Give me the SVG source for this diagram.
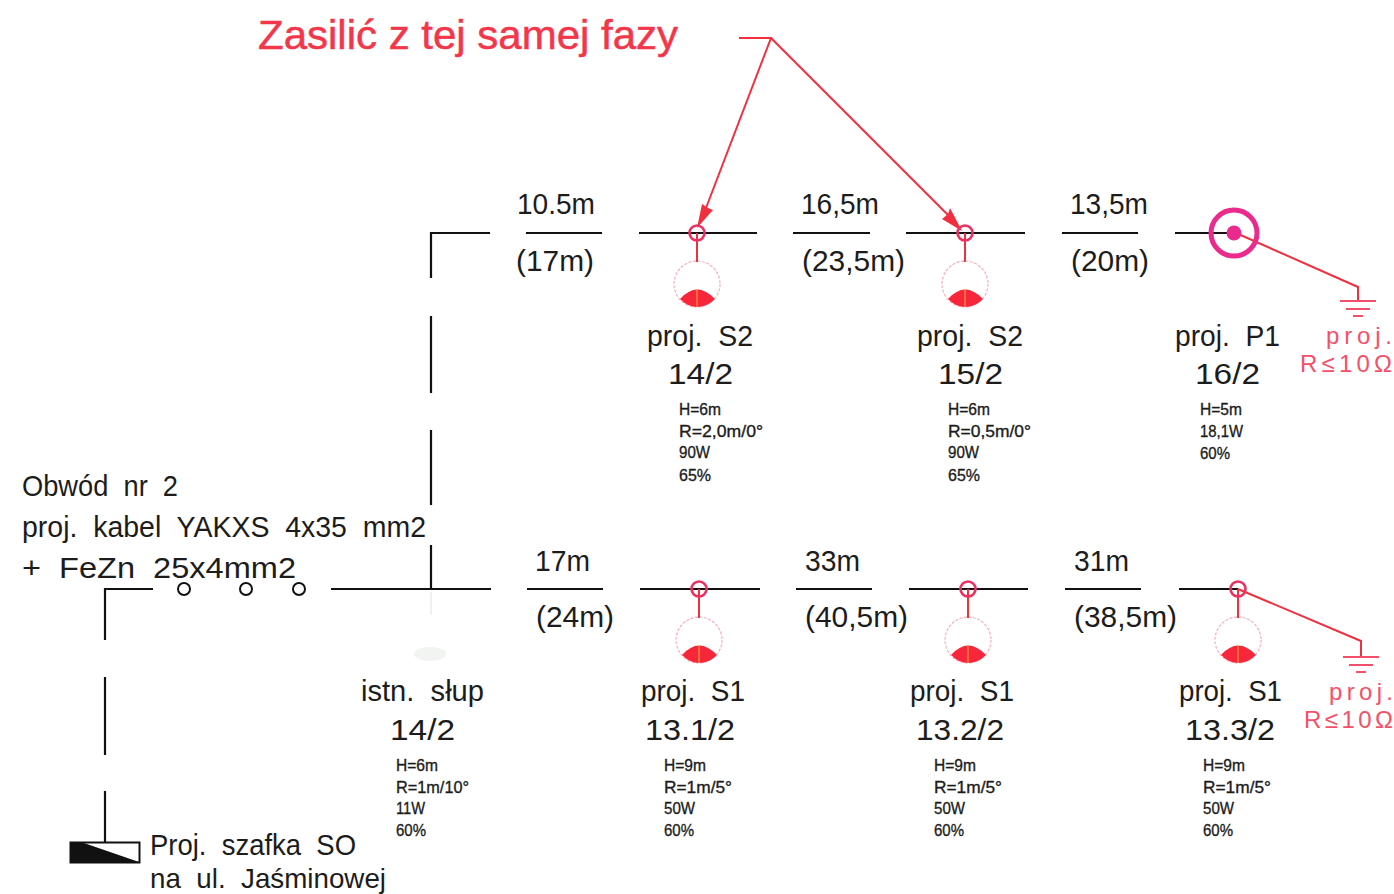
<svg xmlns="http://www.w3.org/2000/svg" xmlns:xlink="http://www.w3.org/1999/xlink" width="1394" height="894" viewBox="0 0 1394 894">
<style>
text{font-family:"Liberation Sans",Arial,sans-serif;fill:#1c1c1c;font-size:29px;font-weight:400;white-space:pre}
.s{font-size:17px;stroke:#1c1c1c;stroke-width:.35}
.r{fill:#f4506a;font-size:24px}
.t{fill:#f4364a;font-size:41px;stroke:#f4364a;stroke-width:.5}
.w{fill:none;stroke:#111;stroke-width:2.2}
.l{fill:none;stroke:#f0303f;stroke-width:2}
.m{fill:none;stroke:#ee2f5f;stroke-width:2.6}
.c{fill:none;stroke:#f6b0be;stroke-width:1.2;stroke-dasharray:3 1.5}
.b{fill:#f7263b}
</style>
<defs>
<g id="lamp">
<circle class="c" cx="0" cy="51" r="23"/>
<path class="b" d="M-17 66Q0 47 18 66Q10 74 0 74Q-9 74-17 66Z"/>
<path d="M0 56V74" stroke="#f5b040" stroke-width="1"/>
<path class="l" d="M0 0V29"/>
<circle class="m" cx="0" cy="0" r="7.500"/>
</g>
<g id="earth">
<path d="M-18 0H18M-12 8H12M-5 15H5" fill="none" stroke="#f2506a" stroke-width="2"/>
</g>
</defs>
<rect width="1394" height="894" fill="#fff"/>
<g id="connectors">
<path class="w" d="M490 233H431V278M431 316V393M431 430V505M431 545V589M526 233H602M639 233H757M793 233H870M906 233H1025M1062 233H1138M1175 233H1235"/>
<path class="w" d="M153 589H105V640M105 677V755M105 791V843M331 589H491M527 589H603M640 589H760M796 589H872M909 589H1028M1065 589H1141M1179 589H1238"/>
<path d="M431 592V615" stroke="#eef2ee" stroke-width="2"/>
<path class="l" d="M739 38H771L706 208M771 38L950 217"/>
<path d="M697 228L702 204L708 208L713 210Z" fill="#f0303f"/>
<path d="M962 231L942 219L948 214L950 208Z" fill="#f0303f"/>
<path class="l" d="M1236 233L1358 287V301M1238 589L1361 641V657"/>
</g>
<g id="title"><text class="t" x="258" y="49" textLength="420" lengthAdjust="spacingAndGlyphs">Zasilić z tej samej fazy</text></g>
<g id="span-top-1"><text x="517" y="214" textLength="78" lengthAdjust="spacingAndGlyphs">10.5m</text><text x="516" y="271" textLength="78" lengthAdjust="spacingAndGlyphs">(17m)</text></g>
<g id="span-top-2"><text x="801" y="214" textLength="78" lengthAdjust="spacingAndGlyphs">16,5m</text><text x="802" y="271" textLength="103" lengthAdjust="spacingAndGlyphs">(23,5m)</text></g>
<g id="span-top-3"><text x="1070" y="214" textLength="78" lengthAdjust="spacingAndGlyphs">13,5m</text><text x="1071" y="271" textLength="78" lengthAdjust="spacingAndGlyphs">(20m)</text></g>
<g id="span-bot-1"><text x="535" y="571" textLength="55" lengthAdjust="spacingAndGlyphs">17m</text><text x="536" y="627" textLength="78" lengthAdjust="spacingAndGlyphs">(24m)</text></g>
<g id="span-bot-2"><text x="805" y="571" textLength="55" lengthAdjust="spacingAndGlyphs">33m</text><text x="805" y="627" textLength="103" lengthAdjust="spacingAndGlyphs">(40,5m)</text></g>
<g id="span-bot-3"><text x="1074" y="571" textLength="55" lengthAdjust="spacingAndGlyphs">31m</text><text x="1074" y="627" textLength="103" lengthAdjust="spacingAndGlyphs">(38,5m)</text></g>
<g id="node-14-2-S2"><use xlink:href="#lamp" href="#lamp" x="697" y="233"/><text x="647" y="346" textLength="106" lengthAdjust="spacingAndGlyphs">proj.  S2</text><text x="668" y="384" textLength="65" lengthAdjust="spacingAndGlyphs">14/2</text>
<text class="s" x="679" y="415" textLength="42" lengthAdjust="spacingAndGlyphs">H=6m</text><text class="s" x="679" y="437" textLength="84" lengthAdjust="spacingAndGlyphs">R=2,0m/0°</text><text class="s" x="679" y="458" textLength="31" lengthAdjust="spacingAndGlyphs">90W</text><text class="s" x="679" y="481" textLength="32" lengthAdjust="spacingAndGlyphs">65%</text></g>
<g id="node-15-2-S2"><use xlink:href="#lamp" href="#lamp" x="965" y="233"/><text x="917" y="346" textLength="106" lengthAdjust="spacingAndGlyphs">proj.  S2</text><text x="938" y="384" textLength="65" lengthAdjust="spacingAndGlyphs">15/2</text>
<text class="s" x="948" y="415" textLength="42" lengthAdjust="spacingAndGlyphs">H=6m</text><text class="s" x="948" y="437" textLength="83" lengthAdjust="spacingAndGlyphs">R=0,5m/0°</text><text class="s" x="948" y="458" textLength="31" lengthAdjust="spacingAndGlyphs">90W</text><text class="s" x="948" y="481" textLength="32" lengthAdjust="spacingAndGlyphs">65%</text></g>
<g id="node-16-2-P1"><circle cx="1234" cy="233" r="23" fill="none" stroke="#ea2a8c" stroke-width="5"/><circle cx="1234" cy="233" r="7.500" fill="#ea2a8c"/>
<text x="1175" y="346" textLength="105" lengthAdjust="spacingAndGlyphs">proj.  P1</text><text x="1195" y="384" textLength="65" lengthAdjust="spacingAndGlyphs">16/2</text>
<text class="s" x="1200" y="415" textLength="42" lengthAdjust="spacingAndGlyphs">H=5m</text><text class="s" x="1200" y="437" textLength="43" lengthAdjust="spacingAndGlyphs">18,1W</text><text class="s" x="1200" y="459" textLength="30" lengthAdjust="spacingAndGlyphs">60%</text></g>
<g id="earth-top"><use xlink:href="#earth" href="#earth" x="1358" y="301"/><text class="r" x="1326" y="344" textLength="66">proj.</text><text class="r" x="1300" y="372" textLength="92">R≤10Ω</text></g>
<g id="node-14-2-istn"><ellipse cx="430" cy="654" rx="16" ry="7" fill="#f1f4f1"/><text x="361" y="701" textLength="123" lengthAdjust="spacingAndGlyphs">istn.  słup</text><text x="390" y="740" textLength="65" lengthAdjust="spacingAndGlyphs">14/2</text>
<text class="s" x="396" y="771" textLength="42" lengthAdjust="spacingAndGlyphs">H=6m</text><text class="s" x="396" y="793" textLength="73" lengthAdjust="spacingAndGlyphs">R=1m/10°</text><text class="s" x="396" y="814" textLength="29" lengthAdjust="spacingAndGlyphs">11W</text><text class="s" x="396" y="836" textLength="30" lengthAdjust="spacingAndGlyphs">60%</text></g>
<g id="node-13-1"><use xlink:href="#lamp" href="#lamp" x="699" y="589"/><text x="641" y="701" textLength="104" lengthAdjust="spacingAndGlyphs">proj.  S1</text><text x="645" y="740" textLength="90" lengthAdjust="spacingAndGlyphs">13.1/2</text>
<text class="s" x="664" y="771" textLength="42" lengthAdjust="spacingAndGlyphs">H=9m</text><text class="s" x="664" y="793" textLength="68" lengthAdjust="spacingAndGlyphs">R=1m/5°</text><text class="s" x="664" y="814" textLength="31" lengthAdjust="spacingAndGlyphs">50W</text><text class="s" x="664" y="836" textLength="30" lengthAdjust="spacingAndGlyphs">60%</text></g>
<g id="node-13-2"><use xlink:href="#lamp" href="#lamp" x="968" y="589"/><text x="910" y="701" textLength="104" lengthAdjust="spacingAndGlyphs">proj.  S1</text><text x="916" y="740" textLength="88" lengthAdjust="spacingAndGlyphs">13.2/2</text>
<text class="s" x="934" y="771" textLength="42" lengthAdjust="spacingAndGlyphs">H=9m</text><text class="s" x="934" y="793" textLength="68" lengthAdjust="spacingAndGlyphs">R=1m/5°</text><text class="s" x="934" y="814" textLength="31" lengthAdjust="spacingAndGlyphs">50W</text><text class="s" x="934" y="836" textLength="30" lengthAdjust="spacingAndGlyphs">60%</text></g>
<g id="node-13-3"><use xlink:href="#lamp" href="#lamp" x="1238" y="589"/><text x="1179" y="701" textLength="103" lengthAdjust="spacingAndGlyphs">proj.  S1</text><text x="1185" y="740" textLength="90" lengthAdjust="spacingAndGlyphs">13.3/2</text>
<text class="s" x="1203" y="771" textLength="42" lengthAdjust="spacingAndGlyphs">H=9m</text><text class="s" x="1203" y="793" textLength="68" lengthAdjust="spacingAndGlyphs">R=1m/5°</text><text class="s" x="1203" y="814" textLength="31" lengthAdjust="spacingAndGlyphs">50W</text><text class="s" x="1203" y="836" textLength="30" lengthAdjust="spacingAndGlyphs">60%</text></g>
<g id="earth-bot"><use xlink:href="#earth" href="#earth" x="1361" y="657"/><text class="r" x="1329" y="700" textLength="64">proj.</text><text class="r" x="1304" y="728" textLength="89">R≤10Ω</text></g>
<g id="cable-label"><text x="22" y="496" textLength="156" lengthAdjust="spacingAndGlyphs">Obwód  nr  2</text><text x="22" y="537" textLength="404" lengthAdjust="spacingAndGlyphs">proj.  kabel  YAKXS  4x35  mm2</text><text x="22" y="578" textLength="274" lengthAdjust="spacingAndGlyphs">+  FeZn  25x4mm2</text>
<circle cx="184" cy="589" r="6" fill="#fff" stroke="#111" stroke-width="2"/><circle cx="246" cy="589" r="6" fill="#fff" stroke="#111" stroke-width="2"/><circle cx="299" cy="589" r="6" fill="#fff" stroke="#111" stroke-width="2"/></g>
<g id="cabinet"><rect x="70.500" y="842.500" width="69" height="20" fill="#fff" stroke="#111" stroke-width="2"/><path d="M70 842H81L139 862H70Z" fill="#111"/><text x="150" y="855" textLength="206" lengthAdjust="spacingAndGlyphs">Proj.  szafka  SO</text><text x="150" y="888" style="font-size:28px" textLength="236" lengthAdjust="spacingAndGlyphs">na  ul.  Jaśminowej</text></g>
</svg>
